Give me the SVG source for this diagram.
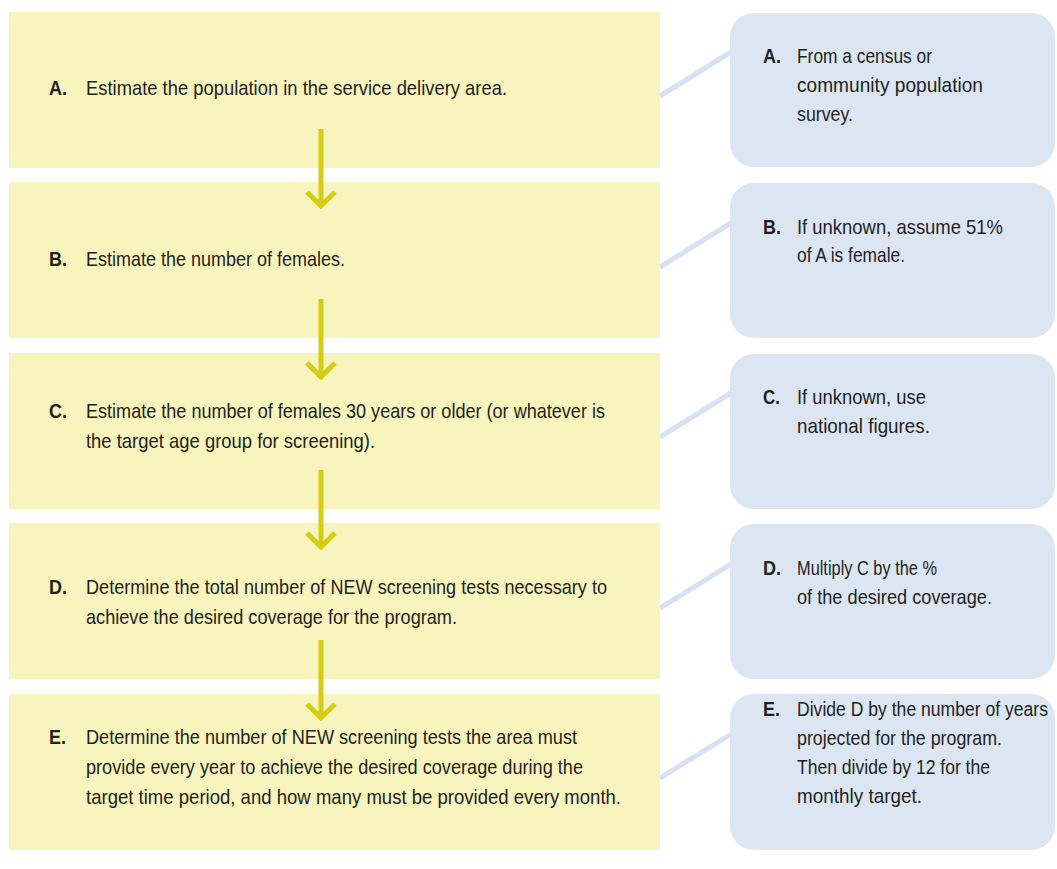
<svg xmlns="http://www.w3.org/2000/svg" width="1057" height="869" viewBox="0 0 1057 869">
<style>
.step{fill:#f8f4be}
.note{fill:#dce6f2}
.conn{stroke:#d6e1f1;stroke-width:5;fill:none}
.arr{stroke:#d3ce15;stroke-width:5;fill:none}
text{font-family:"Liberation Sans",Arial,sans-serif;font-size:21px;fill:#231f20}
.lbl{font-weight:bold}
</style>
<rect width="1057" height="869" fill="#ffffff"/>
<g id="connectors">
<line class="conn" x1="660" y1="96" x2="731" y2="52"/>
<line class="conn" x1="660" y1="267" x2="731" y2="223"/>
<line class="conn" x1="660" y1="437" x2="731" y2="393"/>
<line class="conn" x1="660" y1="608" x2="731" y2="564"/>
<line class="conn" x1="660" y1="778" x2="731" y2="734"/>
</g>
<g id="stepA"><rect class="step" x="9" y="12" width="651" height="156"/>
<text class="lbl" x="49" y="95" textLength="18" lengthAdjust="spacingAndGlyphs">A.</text>
<text x="86" y="95" textLength="421" lengthAdjust="spacingAndGlyphs">Estimate the population in the service delivery area.</text></g>
<g id="stepB"><rect class="step" x="9" y="182" width="651" height="156"/>
<text class="lbl" x="49" y="266" textLength="18" lengthAdjust="spacingAndGlyphs">B.</text>
<text x="86" y="266" textLength="259" lengthAdjust="spacingAndGlyphs">Estimate the number of females.</text></g>
<g id="stepC"><rect class="step" x="9" y="353" width="651" height="156"/>
<text class="lbl" x="49" y="418" textLength="18" lengthAdjust="spacingAndGlyphs">C.</text>
<text x="86" y="418" textLength="519" lengthAdjust="spacingAndGlyphs">Estimate the number of females 30 years or older (or whatever is</text>
<text x="86" y="448" textLength="289" lengthAdjust="spacingAndGlyphs">the target age group for screening).</text></g>
<g id="stepD"><rect class="step" x="9" y="523" width="651" height="156"/>
<text class="lbl" x="49" y="594" textLength="18" lengthAdjust="spacingAndGlyphs">D.</text>
<text x="86" y="594" textLength="521" lengthAdjust="spacingAndGlyphs">Determine the total number of NEW screening tests necessary to</text>
<text x="86" y="624" textLength="371" lengthAdjust="spacingAndGlyphs">achieve the desired coverage for the program.</text></g>
<g id="stepE"><rect class="step" x="9" y="694" width="651" height="156"/>
<text class="lbl" x="49" y="744" textLength="17" lengthAdjust="spacingAndGlyphs">E.</text>
<text x="86" y="744" textLength="491" lengthAdjust="spacingAndGlyphs">Determine the number of NEW screening tests the area must</text>
<text x="86" y="774" textLength="497" lengthAdjust="spacingAndGlyphs">provide every year to achieve the desired coverage during the</text>
<text x="86" y="804" textLength="535" lengthAdjust="spacingAndGlyphs">target time period, and how many must be provided every month.</text></g>
<g id="arrows">
<path class="arr" d="M321 129 V206 M307 192 L321 206 L335 192"/>
<path class="arr" d="M321 299 V377 M307 363 L321 377 L335 363"/>
<path class="arr" d="M321 470 V547 M307 533 L321 547 L335 533"/>
<path class="arr" d="M321 640 V718 M307 704 L321 718 L335 704"/>
</g>
<g id="noteA"><rect class="note" x="730" y="13" width="325" height="154" rx="24"/>
<text class="lbl" x="763" y="63" textLength="18" lengthAdjust="spacingAndGlyphs">A.</text>
<text x="797" y="63" textLength="135" lengthAdjust="spacingAndGlyphs">From a census or</text>
<text x="797" y="92" textLength="186" lengthAdjust="spacingAndGlyphs">community population</text>
<text x="797" y="121" textLength="56" lengthAdjust="spacingAndGlyphs">survey.</text></g>
<g id="noteB"><rect class="note" x="730" y="183" width="325" height="155" rx="24"/>
<text class="lbl" x="763" y="234" textLength="18" lengthAdjust="spacingAndGlyphs">B.</text>
<text x="797" y="234" textLength="206" lengthAdjust="spacingAndGlyphs">If unknown, assume 51%</text>
<text x="797" y="262" textLength="108" lengthAdjust="spacingAndGlyphs">of A is female.</text></g>
<g id="noteC"><rect class="note" x="730" y="354" width="325" height="155" rx="24"/>
<text class="lbl" x="763" y="404" textLength="17" lengthAdjust="spacingAndGlyphs">C.</text>
<text x="797" y="404" textLength="129" lengthAdjust="spacingAndGlyphs">If unknown, use</text>
<text x="797" y="433" textLength="133" lengthAdjust="spacingAndGlyphs">national figures.</text></g>
<g id="noteD"><rect class="note" x="730" y="524" width="325" height="155" rx="24"/>
<text class="lbl" x="763" y="575" textLength="18" lengthAdjust="spacingAndGlyphs">D.</text>
<text x="797" y="575" textLength="140" lengthAdjust="spacingAndGlyphs">Multiply C by the %</text>
<text x="797" y="604" textLength="195" lengthAdjust="spacingAndGlyphs">of the desired coverage.</text></g>
<g id="noteE"><rect class="note" x="730" y="694" width="325" height="156" rx="24"/>
<text class="lbl" x="763" y="716" textLength="17" lengthAdjust="spacingAndGlyphs">E.</text>
<text transform="translate(797 716) scale(0.837 1)" x="0" y="0">Divide D by the number of years</text>
<text x="797" y="745" textLength="205" lengthAdjust="spacingAndGlyphs">projected for the program.</text>
<text x="797" y="774" textLength="193" lengthAdjust="spacingAndGlyphs">Then divide by 12 for the</text>
<text x="797" y="803" textLength="125" lengthAdjust="spacingAndGlyphs">monthly target.</text></g>
</svg>
